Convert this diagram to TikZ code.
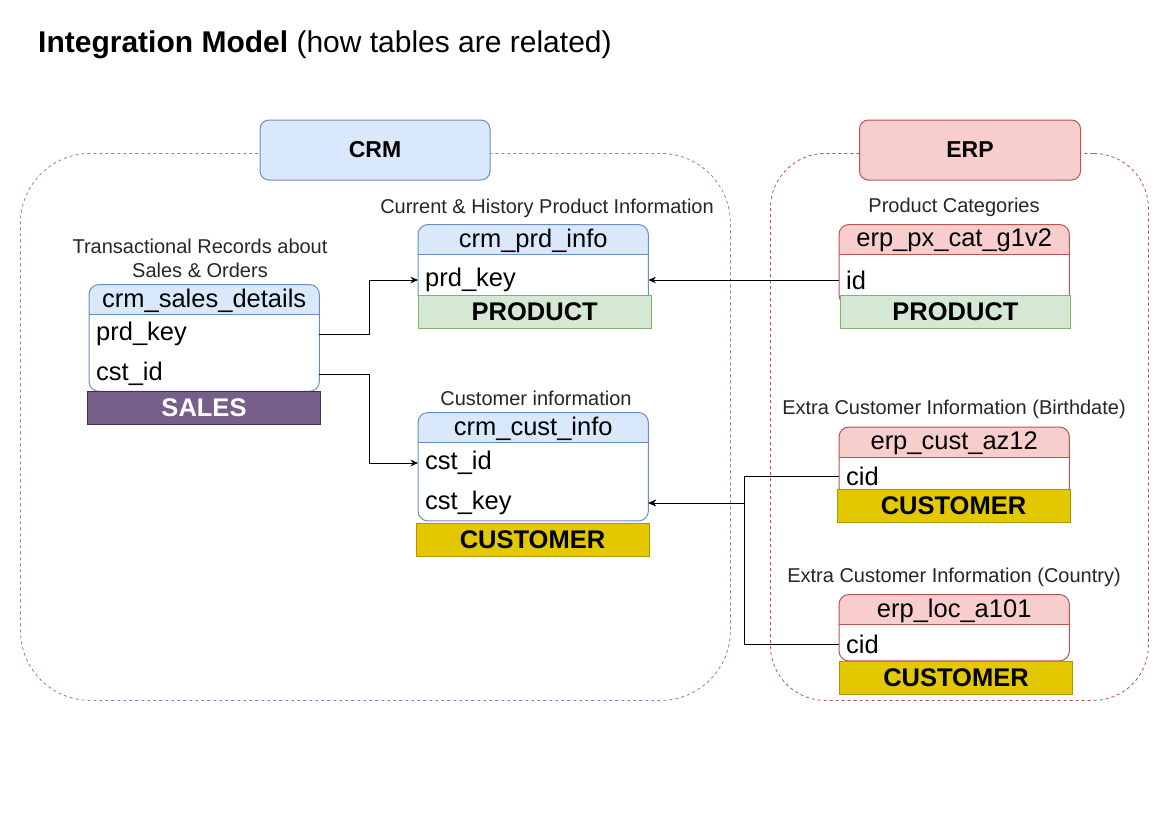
\documentclass[tikz,border=0pt]{standalone}
\usepackage{fontspec}
\setmainfont{Liberation Sans}
\usetikzlibrary{arrows.meta}
\definecolor{crmfill}{HTML}{DAE8FC}
\definecolor{crmline}{HTML}{6C8EBF}
\definecolor{erpfill}{HTML}{F8CECC}
\definecolor{erpline}{HTML}{B85450}
\definecolor{prodfill}{HTML}{D5E8D4}
\definecolor{prodline}{HTML}{82B366}
\definecolor{custfill}{HTML}{E3C800}
\definecolor{custline}{HTML}{B09500}
\definecolor{salesfill}{HTML}{76608A}
\definecolor{salesline}{HTML}{432D57}
\tikzset{
  container/.style={draw, line width=0.8pt, dash pattern=on 3pt off 3pt, anchor=north west, inner sep=0},
  lblbox/.style={line width=1pt, rounded corners=9pt, font=\bfseries\fontsize{23}{27}\selectfont, inner sep=0},
  caption/.style={font=\fontsize{20}{24}\selectfont, text=black!85, align=center, inner sep=0},
  tabbody/.style={anchor=north west, fill=white, inner sep=0, draw=none},
  hdr/.style={font=\fontsize{25.5}{29}\selectfont, inner sep=0},
  rowtext/.style={font=\fontsize{25.5}{29}\selectfont, text width=216pt, inner xsep=7pt, inner ysep=0, align=left, anchor=west},
  bar/.style={font=\bfseries\fontsize{25.5}{29}\selectfont, minimum height=33.5pt, inner sep=0, anchor=north west, line width=1pt},
  conn/.style={draw=black, line width=1pt, -{Stealth[length=7.5pt,width=6.5pt]}},
}
\newcommand\dbtable[8]{%
  \node[tabbody, minimum width=#8pt, minimum height=#4pt] (#1) at (#2,#3) {};
  \begin{scope}
    \clip[rounded corners=10pt] (#1.south west) rectangle (#1.north east);
    \fill[#6] (#1.north west) rectangle ([yshift=-30pt]#1.north east);
  \end{scope}
  \draw[#7, line width=1pt] ([yshift=-30pt]#1.north west) -- ([yshift=-30pt]#1.north east);
  \draw[#7, line width=1pt, rounded corners=10pt] (#1.south west) rectangle (#1.north east);
  \node[hdr] (#1-h) at ([yshift=-16pt]#1.north) {#5};
}
\begin{document}
\begin{tikzpicture}[x=1pt, y=-1pt]
\useasboundingbox[fill=white] (0,0) rectangle (1169,827);

% title
\node[anchor=base west, inner sep=0, font=\fontsize{30}{34}\selectfont] (title) at (38,52)
  {\bfseries Integration Model\mdseries\ (how tables are related)};

% containers
\node[container, draw=crmline, minimum width=710pt, minimum height=547pt, rounded corners=70pt] (crm) at (20,153) {};
\node[container, draw=erpline, minimum width=378pt, minimum height=547pt, rounded corners=55pt] (erp) at (770,153) {};
\node[lblbox, fill=crmfill, draw=crmline, minimum width=230pt, minimum height=60pt] (crm-lbl) at (375,150) {CRM};
\node[lblbox, fill=erpfill, draw=erpline, minimum width=221pt, minimum height=60pt] (erp-lbl) at (970,150) {ERP};

% crm_sales_details
\node[caption] (sales-cap) at (200,258) {Transactional Records about\\Sales \& Orders};
\dbtable{sales}{89}{284.5}{106.5}{crm\_sales\_details}{crmfill}{crmline}{230}
\node[rowtext] (sales-prd) at (89,334) {prd\_key};
\node[rowtext] (sales-cst) at (89,374) {cst\_id};
\node[bar, fill=salesfill, draw=salesline, text=white, minimum width=233pt] (sales-bar) at (87,390.5) {SALES};

% crm_prd_info
\node[caption] (prd-cap) at (547,208) {Current \& History Product Information};
\dbtable{prd}{418}{224.5}{80}{crm\_prd\_info}{crmfill}{crmline}{230}
\node[rowtext] (prd-key) at (418,280) {prd\_key};
\node[bar, fill=prodfill, draw=prodline, minimum width=232.5pt] (prd-bar) at (418,294.5) {PRODUCT};

% crm_cust_info
\node[caption] (cust-cap) at (536,398) {Customer information};
\dbtable{cust}{418}{412.5}{108}{crm\_cust\_info}{crmfill}{crmline}{230}
\node[rowtext] (cust-id) at (418,463) {cst\_id};
\node[rowtext] (cust-key) at (418,503) {cst\_key};
\node[bar, fill=custfill, draw=custline, minimum width=233pt] (cust-bar) at (415.5,522.5) {CUSTOMER};

% erp_px_cat_g1v2
\node[caption] (px-cap) at (954,207) {Product Categories};
\dbtable{px}{839}{224.5}{80}{erp\_px\_cat\_g1v2}{erpfill}{erpline}{230}
\node[rowtext] (px-id) at (839,280) {id};
\node[bar, fill=prodfill, draw=prodline, minimum width=230pt] (px-bar) at (840,294.5) {PRODUCT};

% erp_cust_az12
\node[caption] (az-cap) at (954,409) {Extra Customer Information (Birthdate)};
\dbtable{az}{839}{427}{70}{erp\_cust\_az12}{erpfill}{erpline}{230}
\node[rowtext] (az-cid) at (839,476) {cid};
\node[bar, fill=custfill, draw=custline, minimum width=233pt] (az-bar) at (836.5,488.5) {CUSTOMER};

% erp_loc_a101
\node[caption] (loc-cap) at (954,577) {Extra Customer Information (Country)};
\dbtable{loc}{839}{594.5}{66}{erp\_loc\_a101}{erpfill}{erpline}{230}
\node[rowtext] (loc-cid) at (839,644) {cid};
\node[bar, fill=custfill, draw=custline, minimum width=233pt] (loc-bar) at (839,660.5) {CUSTOMER};

% connectors
\draw[conn] (sales-prd.east) -- ++(50,0) |- (prd-key.west);
\draw[conn] (sales-cst.east) -- ++(50,0) |- (cust-id.west);
\draw[conn] (px-id.west) -- (prd-key.east);
\draw[conn] (az-cid.west) -- ++(-95,0) |- (cust-key.east);
\draw[conn] (loc-cid.west) -- ++(-95,0) |- (cust-key.east);
\end{tikzpicture}
\end{document}
